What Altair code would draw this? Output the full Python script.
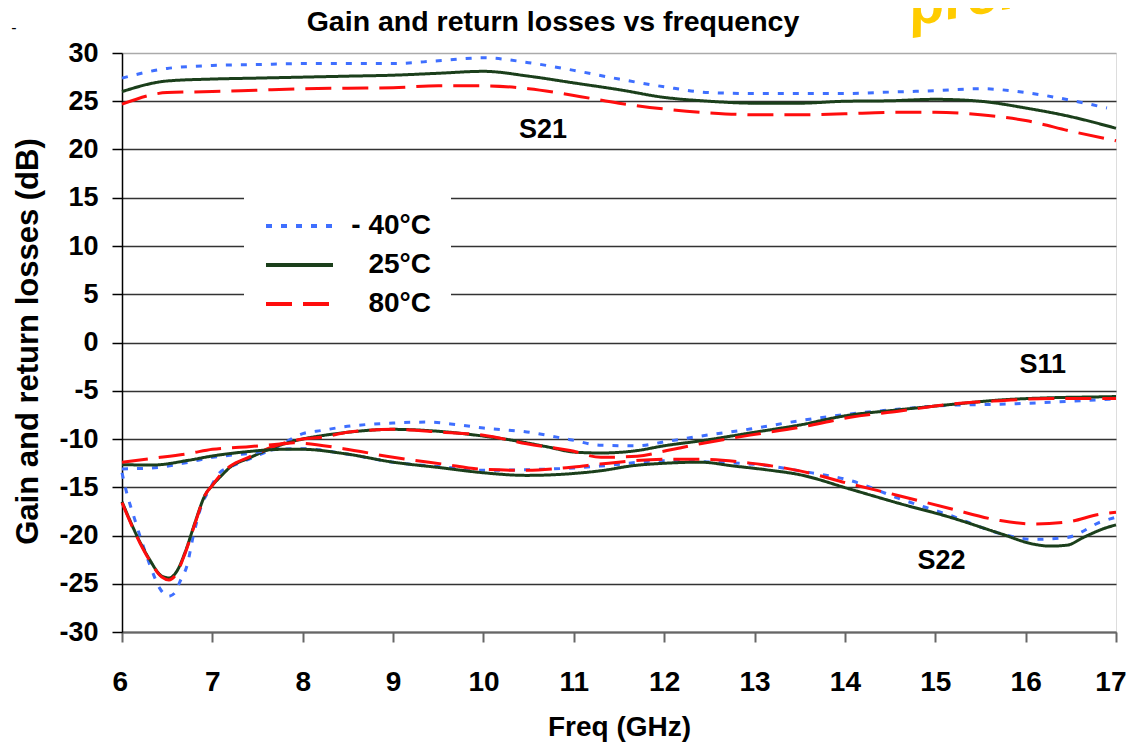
import altair as alt
import pandas as pd

# ---------------- data ----------------
temps = ["- 40°C", "25°C", "80°C"]

# S21
s21_freq = [6, 6.5, 7, 7.5, 8, 8.5, 9, 9.5, 10, 10.5, 11, 11.5, 12, 12.5, 13, 13.5, 14, 14.5, 15, 15.5, 16, 16.5, 17]
s21_m40_freq = [6, 6.5, 7, 7.5, 8, 8.5, 9, 9.5, 10, 10.5, 11, 11.5, 12, 12.5, 13, 13.5, 14, 14.5, 15, 15.5, 16, 16.5, 16.9]
s21_m40 = [27.4, 28.4, 28.7, 28.8, 28.9, 28.9, 28.9, 29.2, 29.5, 29.0, 28.2, 27.3, 26.5, 25.9, 25.8, 25.8, 25.8, 25.95, 26.1, 26.3, 25.9, 25.1, 24.3]
s21_25 = [26.0, 27.1, 27.3, 27.4, 27.5, 27.6, 27.7, 27.9, 28.1, 27.6, 26.9, 26.2, 25.4, 25.0, 24.8, 24.8, 25.0, 25.05, 25.2, 25.0, 24.3, 23.4, 22.2]
s21_80 = [24.7, 25.9, 26.0, 26.15, 26.3, 26.35, 26.4, 26.6, 26.6, 26.3, 25.6, 24.8, 24.2, 23.8, 23.6, 23.6, 23.7, 23.85, 23.85, 23.6, 23.0, 21.9, 20.9]

# S11
s11_m40_freq = [6.0, 6.05, 6.14, 6.31, 6.42, 6.51, 6.59, 6.64, 6.72, 6.79, 6.88, 6.97, 7.08, 7.2, 7.4, 7.7, 8.0, 8.22, 8.45, 9.0, 9.37, 9.7, 10.0, 10.48, 10.96, 11.3, 11.7, 12.03, 12.4, 12.95, 13.5, 14.06, 14.61, 15.16, 15.72, 16.27, 16.82, 17.0]
s11_m40 = [-13.5, -15.5, -18.3, -23.1, -25.5, -26.3, -25.9, -24.8, -23.1, -20.0, -16.9, -15.2, -13.5, -12.9, -12.1, -10.9, -9.45, -9.1, -8.75, -8.34, -8.25, -8.5, -8.86, -9.27, -10.07, -10.65, -10.7, -10.25, -9.7, -8.97, -8.1, -7.4, -6.9, -6.5, -6.4, -6.2, -5.93, -5.85]
s11_25_freq = [6.0, 6.2, 6.3, 6.44, 6.52, 6.6, 6.7, 6.81, 6.92, 7.0, 7.1, 7.2, 7.4, 7.7, 8.0, 8.25, 8.5, 9.0, 9.5, 10.0, 10.3, 10.7, 11.0, 11.3, 11.7, 12.0, 12.4, 13.0, 13.5, 14.0, 14.6, 15.2, 15.7, 16.3, 16.9, 17.0]
s11_25 = [-16.5, -20.7, -22.4, -24.2, -24.4, -23.8, -21.7, -18.6, -15.8, -14.8, -13.8, -12.9, -12.0, -10.8, -10.0, -9.6, -9.3, -9.0, -9.2, -9.7, -10.1, -10.8, -11.35, -11.45, -11.2, -10.7, -10.2, -9.3, -8.55, -7.6, -6.97, -6.4, -5.97, -5.72, -5.62, -5.6]
s11_80_freq = [6.0, 6.2, 6.3, 6.44, 6.52, 6.6, 6.7, 6.81, 6.92, 7.0, 7.1, 7.2, 7.4, 7.7, 8.0, 8.22, 8.5, 9.0, 9.55, 10.0, 10.48, 10.96, 11.3, 11.7, 12.03, 12.4, 12.95, 13.5, 14.06, 14.61, 15.16, 15.72, 16.27, 16.9, 17.0]
s11_80 = [-16.6, -20.8, -22.5, -24.3, -24.6, -24.0, -21.8, -18.7, -15.8, -14.8, -13.6, -12.8, -11.9, -10.7, -10.0, -9.8, -9.3, -9.0, -9.3, -9.6, -10.5, -11.2, -11.9, -11.8, -11.2, -10.5, -9.6, -8.8, -7.75, -7.1, -6.4, -6.03, -5.8, -5.8, -5.8]

# S22
s22_m40_freq = [6.0, 6.33, 6.74, 7.0, 7.4, 7.7, 8.0, 8.45, 9.0, 9.55, 10.0, 10.6, 11.0, 11.3, 12.03, 12.55, 13.14, 13.5, 14.06, 14.61, 15.16, 15.72, 16.09, 16.46, 16.83, 17.0]
s22_m40 = [-13.1, -13.0, -12.4, -11.9, -11.5, -11.1, -11.0, -11.5, -12.4, -12.9, -13.25, -13.15, -13.0, -12.8, -12.24, -12.4, -12.76, -13.3, -14.3, -16.2, -17.9, -19.8, -20.4, -20.2, -18.6, -18.1]
s22_25_freq = [6.0, 6.33, 6.74, 7.0, 7.4, 7.78, 8.0, 8.45, 9.0, 9.55, 10.0, 10.48, 10.96, 11.29, 11.66, 12.03, 12.4, 12.77, 13.14, 13.5, 14.06, 14.61, 15.16, 15.72, 16.09, 16.27, 16.46, 16.64, 16.86, 17.0]
s22_25 = [-12.66, -12.7, -12.2, -11.76, -11.3, -11.07, -11.07, -11.5, -12.4, -13.0, -13.5, -13.77, -13.6, -13.3, -12.76, -12.5, -12.4, -12.8, -13.2, -13.7, -15.2, -16.7, -18.1, -19.8, -20.9, -21.1, -21.0, -20.2, -19.3, -18.9]
s22_80_freq = [6.0, 6.37, 6.74, 7.0, 7.4, 7.78, 7.9, 8.45, 9.0, 9.55, 10.0, 10.48, 11.0, 11.29, 12.03, 12.4, 12.95, 13.5, 14.06, 14.61, 15.16, 15.72, 16.09, 16.46, 16.82, 17.0]
s22_80 = [-12.4, -11.97, -11.5, -11.07, -10.8, -10.5, -10.4, -11.0, -11.9, -12.6, -13.15, -13.25, -12.9, -12.6, -12.1, -12.1, -12.5, -13.3, -14.66, -15.9, -17.2, -18.45, -18.8, -18.6, -17.8, -17.6]

# annotations
label_text = ["S21", "S11", "S22"]
label_freq = [10.66, 16.19, 15.07]
label_db = [22.05, -2.38, -22.6]

chart_title = "Gain and return losses vs frequency"
watermark_text = "preliminary"

y_ticks = list(range(-30, 31, 5))
x_ticks = list(range(6, 18))

# ---------------- build table ----------------
series = [
    ("S21", temps[0], s21_m40_freq, s21_m40),
    ("S21", temps[1], s21_freq, s21_25),
    ("S21", temps[2], s21_freq, s21_80),
    ("S11", temps[0], s11_m40_freq, s11_m40),
    ("S11", temps[1], s11_25_freq, s11_25),
    ("S11", temps[2], s11_80_freq, s11_80),
    ("S22", temps[0], s22_m40_freq, s22_m40),
    ("S22", temps[1], s22_25_freq, s22_25),
    ("S22", temps[2], s22_80_freq, s22_80),
]
rows = []
for param, temp, fr, vals in series:
    for f, v in zip(fr, vals):
        rows.append({"param": param, "temp": temp, "freq": f, "db": v})
df = pd.DataFrame(rows)
labels_df = pd.DataFrame({"text": label_text, "freq": label_freq, "db": label_db})

FONT = "Liberation Sans"
colors = ["#3f6fff", "#1b3f1b", "#ff0d0d"]
dashes = [[6, 9], [1, 0], [26, 11]]

legend = alt.Legend(
    orient="none", legendX=122, legendY=139, title=None,
    fillColor="white", padding=20, symbolType="stroke", symbolSize=4489,
    symbolStrokeWidth=4, clipHeight=28, rowPadding=11,
    labelFont=FONT, labelFontSize=28, labelFontWeight="bold", labelColor="black",
    labelAlign="right", labelOffset=96, labelLimit=300,
)

x_enc = alt.X(
    "freq:Q",
    scale=alt.Scale(domain=[6, 17], nice=False, zero=False),
    axis=alt.Axis(
        values=x_ticks, grid=False, tickSize=10, tickColor="#666", tickWidth=2,
        domainColor="#666", domainWidth=2, labelFlush=True, labelFlushOffset=10,
        labelOverlap=False,
        labelFont=FONT, labelFontSize=28, labelFontWeight="bold", labelColor="black",
        labelBaseline="alphabetic", labelPadding=48, labelExpr="'' + datum.value",
        title="Freq (GHz)", titleFont=FONT, titleFontSize=28, titleFontWeight="bold",
        titleColor="black", titleX=497, titleY=103, titleBaseline="alphabetic",
        titleAlign="center",
    ),
)
y_enc = alt.Y(
    "db:Q",
    scale=alt.Scale(domain=[-30, 30], nice=False, zero=False),
    axis=alt.Axis(
        values=y_ticks, grid=True,
        gridColor=alt.condition("datum.value == 30", alt.value("#aaaaaa"), alt.value("#333333")),
        gridWidth=1.4, tickSize=10, tickColor="black", tickWidth=1.5,
        domainColor="black", domainWidth=1.5, labelFlush=False, labelOverlap=False,
        labelFont=FONT, labelFontSize=27, labelFontWeight="bold", labelColor="black",
        labelPadding=14, labelExpr="'' + datum.value",
        title="Gain and return losses (dB)", titleFont=FONT, titleFontSize=31,
        titleFontWeight="bold", titleColor="black", titleAngle=270,
        titleX=-85, titleY=288, titleBaseline="alphabetic", titleAlign="center",
    ),
)

lines = alt.Chart(df).mark_line(strokeWidth=3, interpolate="monotone").encode(
    x=x_enc,
    y=y_enc,
    color=alt.Color("temp:N", scale=alt.Scale(domain=temps, range=colors), legend=legend),
    strokeDash=alt.StrokeDash("temp:N", scale=alt.Scale(domain=temps, range=dashes), legend=legend),
    detail="param:N",
)

annot = alt.Chart(labels_df).mark_text(
    font=FONT, fontSize=27, fontWeight="bold", color="black", align="center", baseline="middle"
).encode(x="freq:Q", y="db:Q", text="text:N")

title_df = pd.DataFrame({"t": [chart_title]})
title_mark = alt.Chart(title_df).mark_text(
    font=FONT, fontSize=28.5, fontWeight="bold", color="black", align="center", baseline="alphabetic"
).encode(text="t:N", x=alt.value(431), y=alt.value(-22))

mark_df = pd.DataFrame({"t": [watermark_text]})
water = alt.Chart(mark_df).mark_text(
    font=FONT, fontSize=58, fontWeight="bold", fontStyle="italic", color="#ffcc00",
    align="left", baseline="alphabetic", angle=350,
).encode(text="t:N", x=alt.value(790), y=alt.value(-27))

dash_df = pd.DataFrame({"t": ["-"]})
dash_mark = alt.Chart(dash_df).mark_text(
    font=FONT, fontSize=16, color="black", align="center", baseline="middle"
).encode(text="t:N", x=alt.value(-108), y=alt.value(-25))

chart = alt.layer(lines, annot, title_mark, water, dash_mark).properties(
    width=994, height=579,
    autosize=alt.AutoSizeParams(type="none"),
    padding={"left": 114, "top": 45, "right": 11, "bottom": 111},
).configure_view(stroke="#999999", strokeWidth=1.5).configure(background="white")

chart.save("out.html", embed_options={"renderer": "svg", "actions": False})
